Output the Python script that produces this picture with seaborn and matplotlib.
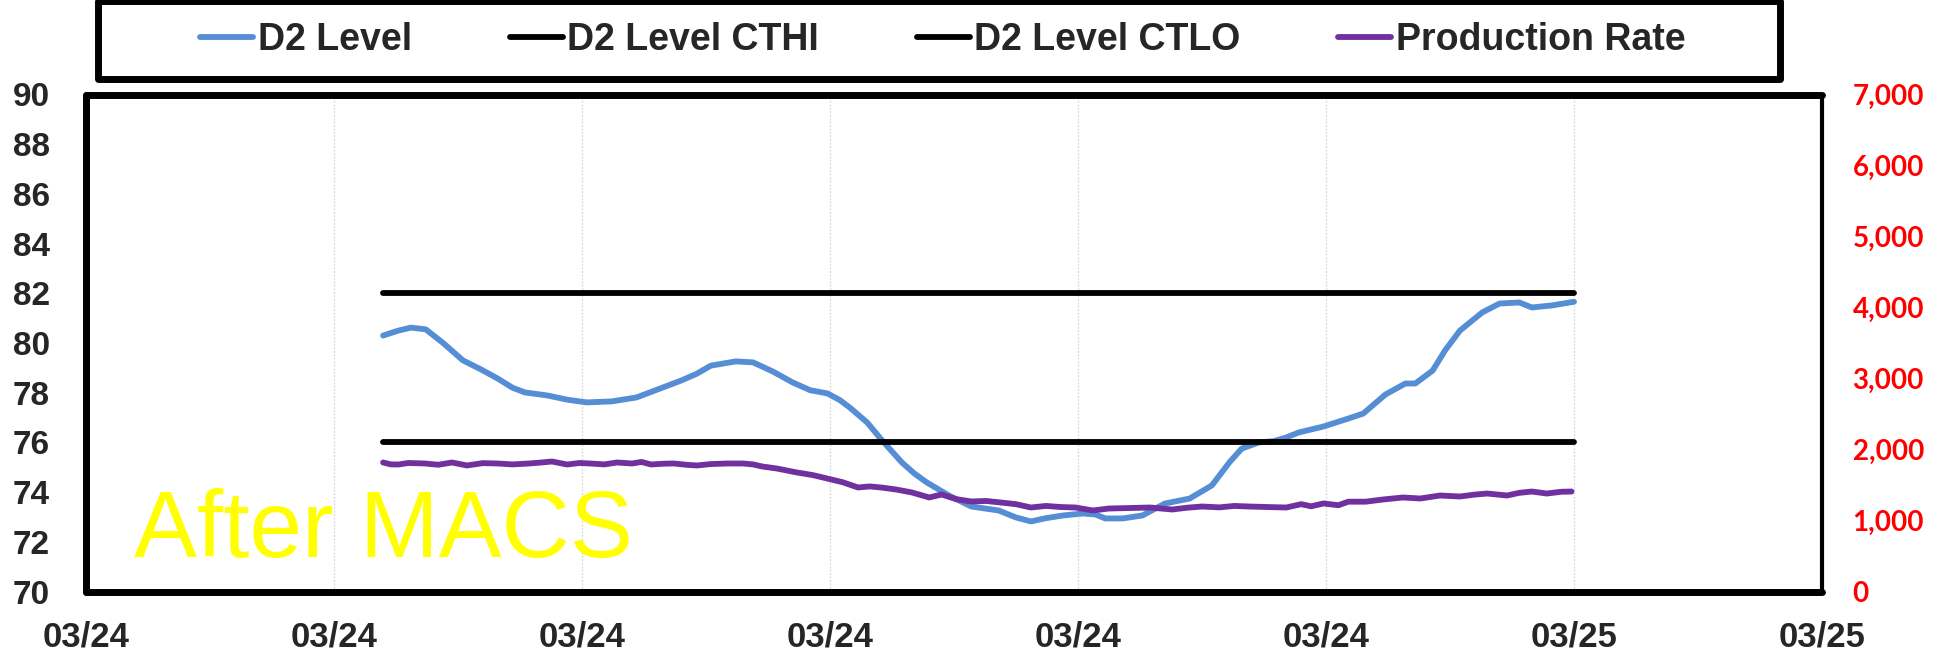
import matplotlib
matplotlib.use("Agg")
import matplotlib.pyplot as plt
from matplotlib.patches import Rectangle
import seaborn as sns

# x positions are in tick units (0..7), one unit per date gridline
x_tick_labels = ["03/24", "03/24", "03/24", "03/24", "03/24", "03/24", "03/25", "03/25"]
left_ticks = [70, 72, 74, 76, 78, 80, 82, 84, 86, 88, 90]
right_ticks = [0, 1000, 2000, 3000, 4000, 5000, 6000, 7000]

d2_x = [1.198, 1.26, 1.31, 1.37, 1.44, 1.52, 1.59, 1.66, 1.72, 1.77, 1.86, 1.94,
        2.02, 2.12, 2.22, 2.31, 2.40, 2.46, 2.52, 2.62, 2.69, 2.77, 2.85, 2.92,
        2.99, 3.04, 3.08, 3.15, 3.21, 3.29, 3.34, 3.39, 3.48, 3.57, 3.68, 3.75,
        3.81, 3.87, 3.94, 4.02, 4.07, 4.11, 4.18, 4.26, 4.35, 4.45, 4.54, 4.61,
        4.66, 4.73, 4.79, 4.84, 4.89, 4.99, 5.09, 5.15, 5.24, 5.32, 5.36, 5.43,
        5.48, 5.54, 5.63, 5.70, 5.78, 5.83, 5.91, 6.00]
d2_level = [80.30, 80.50, 80.62, 80.55, 80.00, 79.30, 78.95, 78.57, 78.20, 78.01, 77.89, 77.72,
            77.61, 77.65, 77.81, 78.15, 78.49, 78.75, 79.09, 79.26, 79.22, 78.85, 78.41, 78.10,
            77.97, 77.70, 77.40, 76.80, 76.08, 75.19, 74.75, 74.39, 73.86, 73.42, 73.26, 72.98,
            72.82, 72.95, 73.06, 73.14, 73.10, 72.94, 72.94, 73.06, 73.54, 73.74, 74.27, 75.19,
            75.75, 76.00, 76.05, 76.20, 76.40, 76.64, 76.96, 77.16, 77.93, 78.37, 78.37, 78.89,
            79.70, 80.50, 81.23, 81.59, 81.63, 81.43, 81.51, 81.66]

limit_x = [1.198, 6.0]
cthi = [82, 82]
ctlo = [76, 76]

prod_x = [1.198, 1.23, 1.26, 1.30, 1.367, 1.42, 1.476, 1.536, 1.60, 1.661, 1.72, 1.786,
          1.83, 1.879, 1.94, 1.99, 2.032, 2.09, 2.141, 2.202, 2.24, 2.278, 2.33, 2.371,
          2.42, 2.464, 2.52, 2.589, 2.649, 2.69, 2.726, 2.786, 2.867, 2.93, 2.988, 3.05,
          3.113, 3.16, 3.206, 3.266, 3.33, 3.40, 3.45, 3.51, 3.57, 3.63, 3.69, 3.75,
          3.81, 3.87, 3.93, 3.99, 4.06, 4.125, 4.20, 4.29, 4.38, 4.44, 4.50, 4.57,
          4.63, 4.69, 4.76, 4.84, 4.90, 4.94, 4.99, 5.05, 5.09, 5.16, 5.23, 5.31,
          5.38, 5.46, 5.54, 5.60, 5.65, 5.73, 5.78, 5.83, 5.89, 5.95, 5.99]
prod_rate = [1817, 1790, 1789, 1810, 1803, 1785, 1817, 1775, 1808, 1803, 1790, 1803,
             1815, 1831, 1789, 1810, 1803, 1790, 1817, 1803, 1825, 1789, 1800, 1803,
             1785, 1775, 1795, 1803, 1803, 1790, 1761, 1732, 1676, 1640, 1592, 1540,
             1465, 1480, 1465, 1437, 1395, 1324, 1366, 1300, 1268, 1275, 1253, 1230,
             1183, 1205, 1190, 1183, 1141, 1169, 1175, 1183, 1155, 1180, 1197, 1185,
             1205, 1197, 1190, 1183, 1230, 1200, 1240, 1215, 1265, 1265, 1296, 1324,
             1310, 1352, 1338, 1365, 1380, 1352, 1390, 1408, 1380, 1405, 1408]

BLUE = "#558ED5"
PURPLE = "#7030A0"
LW = 4.2

sns.set_style("white")
plt.rcParams["font.family"] = ["Liberation Sans", "DejaVu Sans"]
plt.rcParams["lines.solid_capstyle"] = "round"

fig = plt.figure(figsize=(19.46, 6.56), dpi=100)
W, H = 1946, 656
ax = fig.add_axes([86 / W, 1 - 591.5 / H, (1822 - 86) / W, (591.5 - 94.5) / H])
ax2 = ax.twinx()

sns.lineplot(x=d2_x, y=d2_level, ax=ax, color=BLUE, linewidth=LW, sort=False,
             label="D2 Level", legend=False)
sns.lineplot(x=limit_x, y=cthi, ax=ax, color="black", linewidth=LW, sort=False,
             label="D2 Level CTHI", legend=False)
sns.lineplot(x=limit_x, y=ctlo, ax=ax, color="black", linewidth=LW, sort=False,
             label="D2 Level CTLO", legend=False)
sns.lineplot(x=prod_x, y=prod_rate, ax=ax2, color=PURPLE, linewidth=LW, sort=False,
             label="Production Rate", legend=False)

ax.set_xlim(0, 7)
ax.set_ylim(70, 90)
ax2.set_ylim(0, 7000)
ax.set_xticks(range(len(x_tick_labels)))
ax.set_xticklabels(x_tick_labels)
ax.set_yticks(left_ticks)
ax2.set_yticks(right_ticks)
ax2.set_yticklabels([f"{v:,}" for v in right_ticks])

ax.tick_params(axis="x", length=0, pad=21, labelsize=25)
ax.tick_params(axis="y", length=0, pad=26, labelsize=24)
for lab in ax.get_xticklabels() + ax.get_yticklabels():
    lab.set_fontweight("bold")
ax2.tick_params(axis="y", length=0, pad=22, labelsize=20, labelcolor="#FF0000")
for lab in ax2.get_yticklabels():
    lab.set_fontweight("bold")
    lab.set_family(["Lato", "DejaVu Sans"])

ax.xaxis.grid(True, color="#dedede", linestyle=(0, (1.5, 1)), linewidth=1)
ax.yaxis.grid(False)
ax2.grid(False)
ax.set_xlabel("")
ax.set_ylabel("")
ax2.set_ylabel("")

for side in ["left", "top", "bottom"]:
    ax.spines[side].set_linewidth(5)
    ax.spines[side].set_color("black")
    ax.spines[side].set_capstyle("round")
ax.spines["right"].set_linewidth(3)
ax.spines["right"].set_color("black")
for s in ax2.spines.values():
    s.set_visible(False)

ax.text(0.194, 71.39, "After MACS", color="#FFFF00", fontsize=68,
        va="baseline", ha="left", zorder=1)

# legend box on top
handles = ax.get_lines()[:3] + ax2.get_lines()[:1]
labels = ["D2 Level", "D2 Level CTHI", "D2 Level CTLO", "Production Rate"]
fig.legend(handles, labels, loc="center", bbox_to_anchor=(943 / W, 1 - 40 / H),
           ncol=4, frameon=False, prop={"weight": "bold", "size": 27},
           handlelength=1.41, handletextpad=0.13, columnspacing=2.6)
fig.patches.append(Rectangle((98 / W, 1 - 79 / H), 1682 / W, 78 / H,
                             transform=fig.transFigure, fill=False,
                             edgecolor="black", linewidth=5, joinstyle="round"))

fig.savefig("out.png", dpi=100)
